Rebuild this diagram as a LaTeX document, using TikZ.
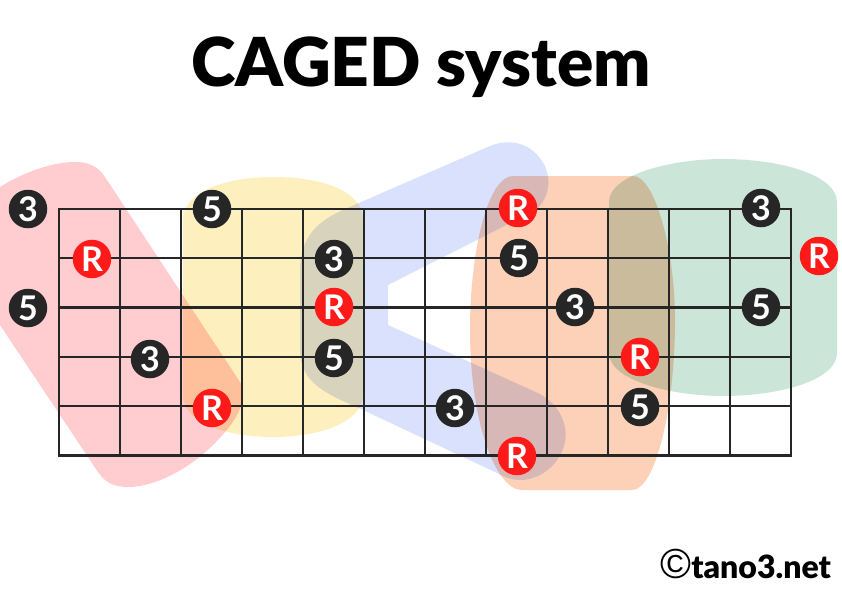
\documentclass[tikz,border=0pt]{standalone}
\usepackage{fontspec}
\setmainfont{Lato}
\newfontfamily\titlefont{Lato Black}
\newfontfamily\copyfont{Liberation Sans}
\definecolor{ink}{HTML}{262626}
\definecolor{rootred}{HTML}{FF1A1A}
\tikzset{
  notedot/.style={circle,minimum size=38.5pt,inner sep=0pt,text=white,font=\fontsize{34}{34}\bfseries\selectfont},
  third/.style={notedot,fill=ink},
  fifth/.style={notedot,fill=ink},
  root/.style={notedot,fill=rootred},
  blob/.style={blend mode=multiply,draw=none},
  fret/.style={draw=ink,line width=2.1pt},
}
\begin{document}
\begin{tikzpicture}[x=1pt,y=-1pt]
\useasboundingbox (0,0) rectangle (842,595);
\fill[white] (0,0) rectangle (842,595);
\begin{scope}
\clip (0,0) rectangle (842,595);
% C shape
\fill[blob,fill={rgb,255:red,255;green,204;blue,207}]
  (-10,194) .. controls (15,175) and (50,162) .. (75,162)
  .. controls (90,162) and (98,167) .. (105,177)
  -- (240,382) .. controls (248,395) and (240,415) .. (225,432)
  .. controls (195,468) and (155,487) .. (128,487)
  .. controls (112,487) and (104,481) .. (98,472)
  -- (-10,310) -- cycle;
% A shape
\fill[blob,fill={rgb,255:red,254;green,240;blue,190}]
  (183,220) .. controls (183,192) and (225,177) .. (273,177)
  .. controls (320,177) and (363,190) .. (363,220)
  -- (363,395) .. controls (363,422) and (320,437) .. (273,437)
  .. controls (225,437) and (183,422) .. (183,395) -- cycle;
% G shape
\fill[blob,fill={rgb,255:red,217;green,225;blue,253}]
  (490,146) .. controls (505,140) and (525,140) .. (539,157)
  .. controls (552,172) and (552,195) .. (536,210)
  -- (388,285) -- (388,325) -- (540,394)
  .. controls (560,405) and (568,425) .. (565,442)
  .. controls (560,465) and (540,480) .. (520,480)
  .. controls (510,480) and (503,476) .. (495,472)
  -- (363,410)
  .. controls (330,395) and (300,385) .. (300,350)
  -- (300,270)
  .. controls (300,235) and (320,220) .. (345,209) -- cycle;
% E shape
\fill[blob,fill={rgb,255:red,253;green,209;blue,184}]
  (513,176) -- (633,176)
  .. controls (655,176) and (675,250) .. (675,320)
  .. controls (675,410) and (655,490) .. (632,490)
  -- (522,490)
  .. controls (495,490) and (470,420) .. (470,330)
  .. controls (470,250) and (488,176) .. (513,176) -- cycle;
% D shape
\fill[blob,fill={rgb,255:red,204;green,229;blue,217}]
  (609,202) .. controls (609,175) and (670,159) .. (723,159)
  .. controls (780,159) and (837,175) .. (837,202)
  -- (837,353) .. controls (837,380) and (780,396) .. (723,396)
  .. controls (670,396) and (609,380) .. (609,353) -- cycle;
\end{scope}
% frets and strings
\foreach \fx in {59,120,181,242,303,364,425,486,547,608,669,730,791}
  \draw[fret] (\fx,209) -- (\fx,455.5);
\foreach \sy in {209,258,307.5,357,406,455.5}
  \draw[fret,line cap=rect] (59,\sy) -- (791,\sy);
% notes
\node[third] (n1) at (28,209) {3};
\node[fifth] (n2) at (212,209) {5};
\node[root] (n3) at (92,259) {R};
\node[fifth] (n4) at (28,308) {5};
\node[third] (n5) at (150,359) {3};
\node[root] (n6) at (212,408) {R};
\node[third] (n7) at (334,259) {3};
\node[root] (n8) at (334,307) {R};
\node[fifth] (n9) at (334,358) {5};
\node[third] (n10) at (455,408) {3};
\node[root] (n11) at (518,208) {R};
\node[fifth] (n12) at (519,258) {5};
\node[third] (n13) at (575,307) {3};
\node[root] (n14) at (517,456) {R};
\node[root] (n15) at (640,357) {R};
\node[fifth] (n16) at (640,407) {5};
\node[third] (n17) at (761,208) {3};
\node[fifth] (n18) at (761,307) {5};
\node[root] (n19) at (819,256) {R};
% texts
\node[font=\titlefont\fontsize{67.5}{67.5}\selectfont,text=black,inner sep=0pt] (title) at (421,67) {CAGED system};
\node[anchor=base east,inner sep=0pt,font=\titlefont\fontsize{32}{32}\selectfont] (credit) at (831,578.5) {{\copyfont\fontsize{42}{42}\selectfont ©}tano3.net};
\end{tikzpicture}
\end{document}
